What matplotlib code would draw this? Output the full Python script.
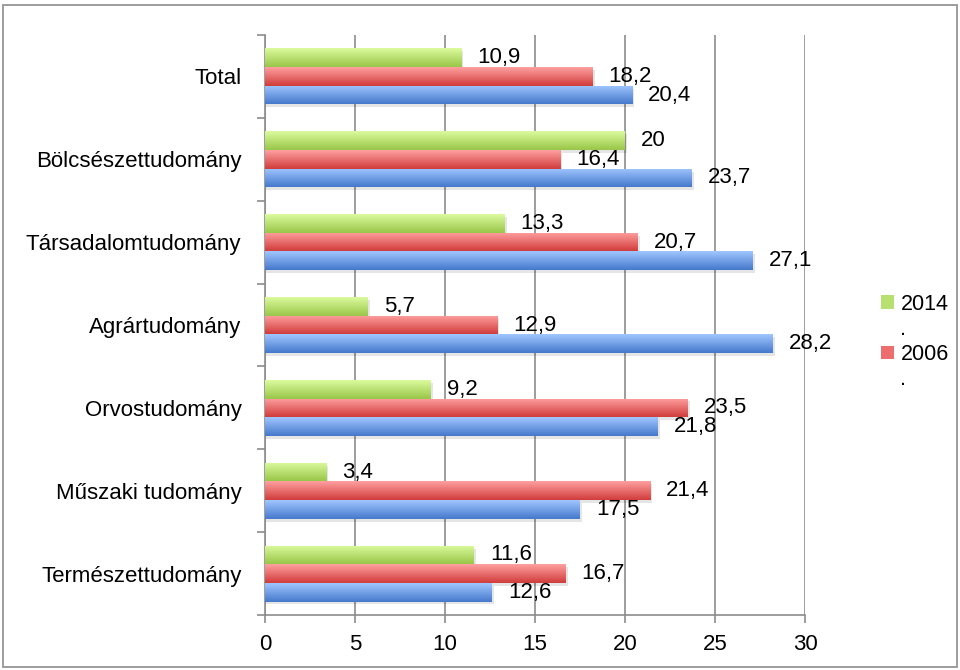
import numpy as np
import matplotlib.pyplot as plt
from matplotlib import font_manager
from matplotlib.colors import LinearSegmentedColormap
from matplotlib.patches import Patch, Rectangle

# the original uses a narrow Arial; fall back to the normal width if missing
installed = {f.name for f in font_manager.fontManager.ttflist}
if 'Liberation Sans Narrow' in installed:
    plt.rcParams['font.family'] = ['Liberation Sans Narrow', 'DejaVu Sans']
    fs, fs_leg = 19, 18
else:
    plt.rcParams['font.family'] = ['Liberation Sans', 'DejaVu Sans']
    fs, fs_leg = 16, 15.5

# data
categories = ['Total', 'Bölcsészettudomány', 'Társadalomtudomány', 'Agrártudomány',
              'Orvostudomány', 'Műszaki tudomány', 'Természettudomány']
vals_2014 = [10.9, 20, 13.3, 5.7, 9.2, 3.4, 11.6]
vals_2006 = [18.2, 16.4, 20.7, 12.9, 23.5, 21.4, 16.7]
vals_other = [20.4, 23.7, 27.1, 28.2, 21.8, 17.5, 12.6]
x_ticks = [0, 5, 10, 15, 20, 25, 30]

# (label, values, top colour, bottom colour, offset within group)
series = [
    ('2014', vals_2014, '#dcfb9e', '#98c648', 1),
    ('2006', vals_2006, '#ffa0a0', '#d13c3c', 0),
    ('_other', vals_other, '#a0c6ff', '#4579cc', -1),
]

fig = plt.figure(figsize=(9.6, 6.7), dpi=100)
ax = fig.add_axes([265 / 960, 1 - 615 / 670, 540 / 960, 580 / 670])

# outer chart border
fig.patches.append(Rectangle((3 / 960, 3 / 670), 954 / 960, 662 / 670,
                             transform=fig.transFigure, fill=False,
                             edgecolor='#8c8c8c', linewidth=1.2))

n = len(categories)
ypos = np.arange(n)[::-1]
h = 0.225
grad = np.linspace(0, 1, 64).reshape(-1, 1)

for label, vals, top, bottom, off in series:
    cmap = LinearSegmentedColormap.from_list(label, [bottom, top])
    yy = ypos + off * h
    # soft shadow
    ax.barh(yy - 0.035, [v + 0.12 for v in vals], height=h, color='#000000',
            alpha=0.10, linewidth=0, zorder=2)
    bars = ax.barh(yy, vals, height=h, color=top, linewidth=0, zorder=3)
    for b, v, y in zip(bars, vals, yy):
        im = ax.imshow(grad, extent=[0, v, y - h / 2, y + h / 2], cmap=cmap,
                       aspect='auto', origin='lower', zorder=3.5,
                       interpolation='bilinear')
        im.set_clip_path(b)
        ax.annotate(f'{v:g}'.replace('.', ','), xy=(v, y), xytext=(16, 0),
                    textcoords='offset pixels', ha='left', va='center',
                    fontsize=fs, color='black', zorder=5)

ax.set_xlim(0, 30)
ax.set_ylim(-0.5, n - 0.5)
ax.set_xticks(x_ticks)
ax.set_xticklabels([str(t) for t in x_ticks])
ax.set_yticks(ypos)
ax.set_yticklabels(categories)
ax.set_yticks(np.arange(-0.5, n, 1), minor=True)

ax.grid(axis='x', color='#8c8c8c', linewidth=1.2, zorder=0)
ax.set_axisbelow(True)
for s in ['top', 'right']:
    ax.spines[s].set_visible(False)
for s in ['left', 'bottom']:
    ax.spines[s].set_color('#8c8c8c')
    ax.spines[s].set_linewidth(1.2)

ax.tick_params(axis='y', which='major', length=0, pad=17, labelsize=fs)
ax.tick_params(axis='y', which='minor', length=6, width=1.2, color='#8c8c8c')
ax.tick_params(axis='x', length=6, width=1.2, color='#8c8c8c', pad=8, labelsize=fs)

handles = [Patch(facecolor='#b8e070', edgecolor='none'),
           Patch(facecolor='none', edgecolor='none'),
           Patch(facecolor='#ec6e6e', edgecolor='none'),
           Patch(facecolor='none', edgecolor='none')]
fig.legend(handles, ['2014', '.', '2006', '.'], loc='center left',
           bbox_to_anchor=(881 / 960, 1 - 342 / 670), frameon=False,
           fontsize=fs_leg, borderpad=0, borderaxespad=0, handlelength=0.6,
           handleheight=0.6, handletextpad=0.3, labelspacing=0.2)

fig.savefig('out.png', dpi=100)
